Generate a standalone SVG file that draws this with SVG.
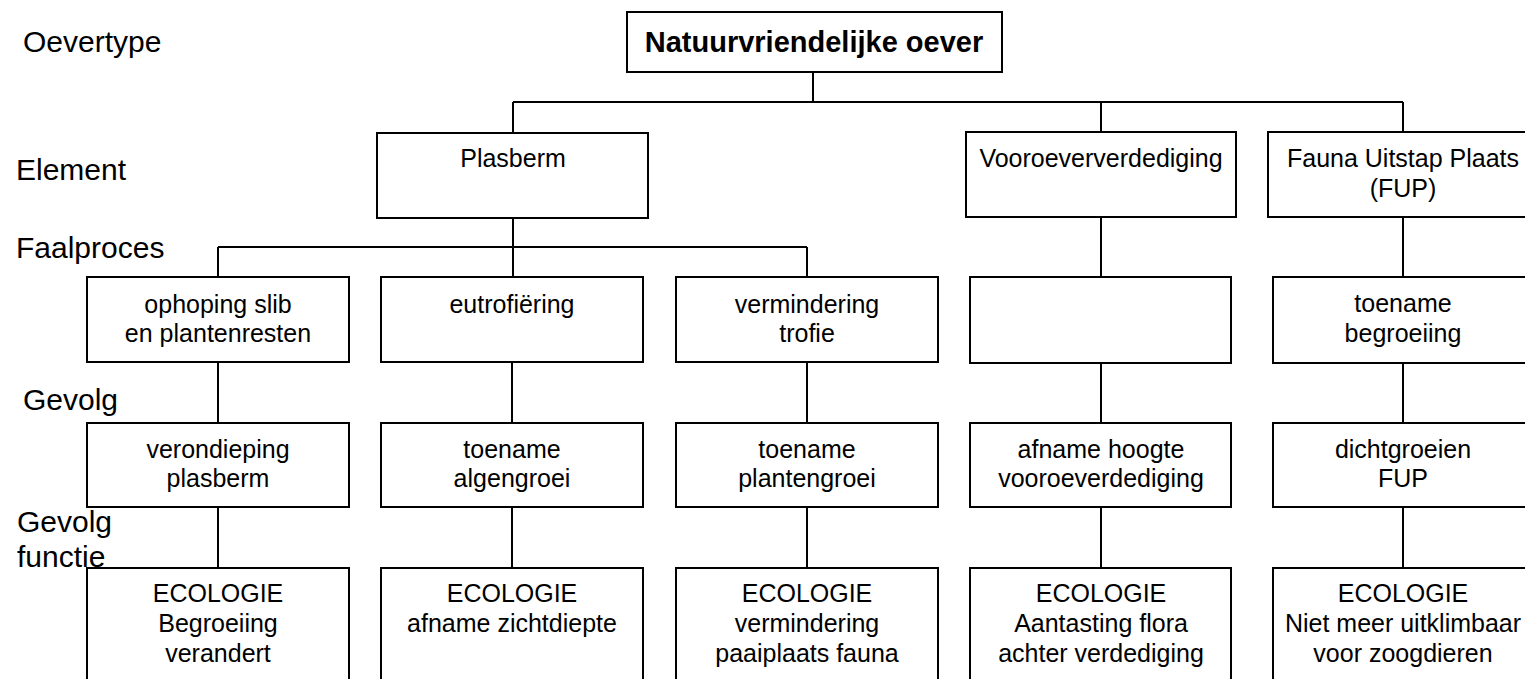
<svg xmlns="http://www.w3.org/2000/svg" width="1525" height="679" viewBox="0 0 1525 679">
  <style>
    .box { fill: #ffffff; stroke: #000000; stroke-width: 2; }
    .wire { fill: none; stroke: #000000; stroke-width: 2; }
    .t { font-family: "Liberation Sans", Arial, sans-serif; font-size: 25px; fill: #000000; text-anchor: middle; }
    .title { font-family: "Liberation Sans", Arial, sans-serif; font-size: 29px; font-weight: bold; fill: #000000; text-anchor: middle; }
    .lbl { font-family: "Liberation Sans", Arial, sans-serif; font-size: 30px; fill: #000000; }
  </style>
  <rect width="1525" height="679" fill="#ffffff"/>

  <!-- connectors -->
  <g id="connectors" class="wire">
    <path d="M813,72 V102 M513,102 H1403 M513,102 V133 M1101,102 V133 M1403,102 V133"/>
    <path d="M513,218 V277 M218,247 H807 M218,247 V277 M807,247 V277"/>
    <path d="M1101,217 V277 M1403,217 V277"/>
    <path d="M218,362 V423 M512,362 V423 M807,362 V423 M1101,363 V423 M1403,363 V423"/>
    <path d="M218,507 V568 M512,507 V568 M807,507 V568 M1101,507 V568 M1403,507 V568"/>
  </g>

  <!-- level labels -->
  <g id="levels">
    <text class="lbl" x="23" y="52">Oevertype</text>
    <text class="lbl" x="16" y="180">Element</text>
    <text class="lbl" x="16" y="258">Faalproces</text>
    <text class="lbl" x="23" y="410">Gevolg</text>
    <text class="lbl" x="17" y="532">Gevolg</text>
    <text class="lbl" x="17" y="567">functie</text>
  </g>

  <!-- oevertype -->
  <g id="n-oever">
    <rect class="box" x="627" y="12" width="375" height="60"/>
    <text class="title" x="814" y="52">Natuurvriendelijke oever</text>
  </g>

  <!-- elements -->
  <g id="n-plasberm">
    <rect class="box" x="377" y="133" width="271" height="85"/>
    <text class="t" x="513" y="167">Plasberm</text>
  </g>
  <g id="n-vooroever">
    <rect class="box" x="966" y="132" width="270" height="85"/>
    <text class="t" x="1101" y="167">Vooroeververdediging</text>
  </g>
  <g id="n-fup">
    <rect class="box" x="1268" y="132" width="270" height="85"/>
    <text class="t" x="1403" y="167">Fauna Uitstap Plaats</text>
    <text class="t" x="1403" y="197">(FUP)</text>
  </g>

  <!-- faalprocessen -->
  <g id="f-slib">
    <rect class="box" x="87" y="277" width="262" height="85"/>
    <text class="t" x="218" y="313">ophoping slib</text>
    <text class="t" x="218" y="342">en plantenresten</text>
  </g>
  <g id="f-eutro">
    <rect class="box" x="381" y="277" width="262" height="85"/>
    <text class="t" x="512" y="313">eutrofiëring</text>
  </g>
  <g id="f-trofie">
    <rect class="box" x="676" y="277" width="262" height="85"/>
    <text class="t" x="807" y="313">vermindering</text>
    <text class="t" x="807" y="342">trofie</text>
  </g>
  <g id="f-vooroever">
    <rect class="box" x="970" y="277" width="261" height="86"/>
  </g>
  <g id="f-fup">
    <rect class="box" x="1273" y="277" width="262" height="86"/>
    <text class="t" x="1403" y="312">toename</text>
    <text class="t" x="1403" y="342">begroeiing</text>
  </g>

  <!-- gevolgen -->
  <g id="g-slib">
    <rect class="box" x="87" y="423" width="262" height="84"/>
    <text class="t" x="218" y="458">verondieping</text>
    <text class="t" x="218" y="487">plasberm</text>
  </g>
  <g id="g-eutro">
    <rect class="box" x="381" y="423" width="262" height="84"/>
    <text class="t" x="512" y="458">toename</text>
    <text class="t" x="512" y="487">algengroei</text>
  </g>
  <g id="g-trofie">
    <rect class="box" x="676" y="423" width="262" height="84"/>
    <text class="t" x="807" y="458">toename</text>
    <text class="t" x="807" y="487">plantengroei</text>
  </g>
  <g id="g-vooroever">
    <rect class="box" x="970" y="423" width="261" height="84"/>
    <text class="t" x="1101" y="458">afname hoogte</text>
    <text class="t" x="1101" y="487">vooroeverdediging</text>
  </g>
  <g id="g-fup">
    <rect class="box" x="1273" y="423" width="262" height="84"/>
    <text class="t" x="1403" y="458">dichtgroeien</text>
    <text class="t" x="1403" y="487">FUP</text>
  </g>

  <!-- gevolg functie -->
  <g id="e-slib">
    <rect class="box" x="87" y="568" width="262" height="130"/>
    <text class="t" x="218" y="602">ECOLOGIE</text>
    <text class="t" x="218" y="632">Begroeiing</text>
    <text class="t" x="218" y="662">verandert</text>
  </g>
  <g id="e-eutro">
    <rect class="box" x="381" y="568" width="262" height="130"/>
    <text class="t" x="512" y="602">ECOLOGIE</text>
    <text class="t" x="512" y="632">afname zichtdiepte</text>
  </g>
  <g id="e-trofie">
    <rect class="box" x="676" y="568" width="262" height="130"/>
    <text class="t" x="807" y="602">ECOLOGIE</text>
    <text class="t" x="807" y="632">vermindering</text>
    <text class="t" x="807" y="662">paaiplaats fauna</text>
  </g>
  <g id="e-vooroever">
    <rect class="box" x="970" y="568" width="261" height="130"/>
    <text class="t" x="1101" y="602">ECOLOGIE</text>
    <text class="t" x="1101" y="632">Aantasting flora</text>
    <text class="t" x="1101" y="662">achter verdediging</text>
  </g>
  <g id="e-fup">
    <rect class="box" x="1273" y="568" width="262" height="130"/>
    <text class="t" x="1403" y="602">ECOLOGIE</text>
    <text class="t" x="1403" y="632">Niet meer uitklimbaar</text>
    <text class="t" x="1403" y="662">voor zoogdieren</text>
  </g>
</svg>
